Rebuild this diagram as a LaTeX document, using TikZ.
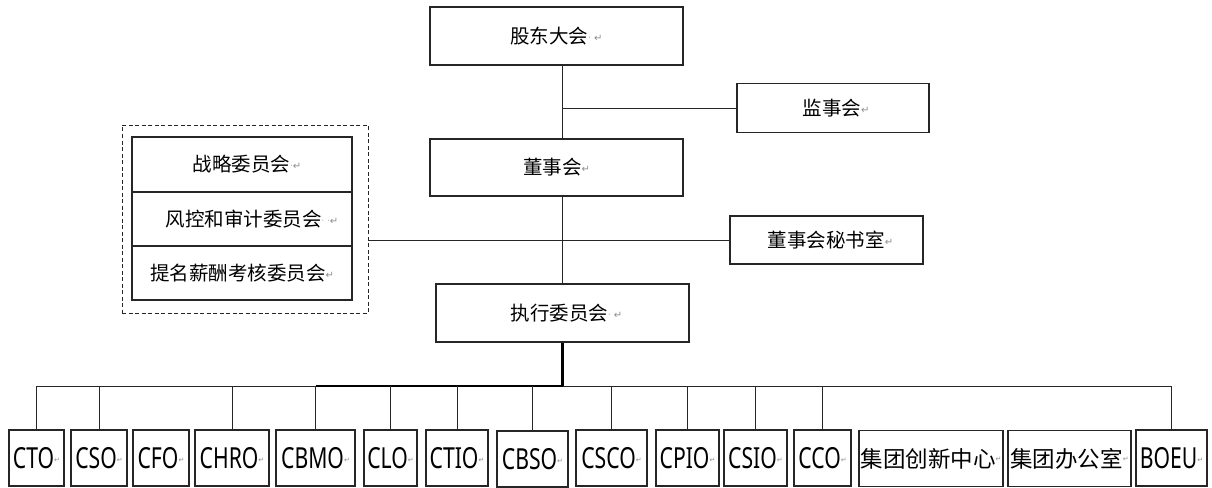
\documentclass[tikz,border=0pt]{standalone}
\usepackage{fontspec}
\newfontfamily\cjk{Noto Sans CJK SC}
\newfontfamily\latn[FakeStretch=0.73]{Noto Sans}
\newfontfamily\mkfont{DejaVu Sans}
\newcommand\rmk{{\mkfont\fontsize{10}{10}\selectfont\raisebox{2pt}{\textcolor{black!45}{↵}}}}
\newcommand\rmks{{\mkfont\fontsize{7}{7}\selectfont\raisebox{6pt}{\textcolor{black!45}{↵}}}}
\newcommand\sdot{{\mkfont\fontsize{8}{8}\selectfont\raisebox{3pt}{\textcolor{black!40}{·}}}}
\begin{document}
\begin{tikzpicture}[x=1pt,y=-1pt,
  box/.style={draw=black!85, line width=1.1pt, inner sep=0pt, align=center,
    font=\cjk\fontsize{19.5}{22}\selectfont},
  bot/.style={draw=black!85, line width=1.1pt, inner sep=0pt, align=center,
    minimum height=56pt, font=\latn\fontsize{29}{30}\selectfont},
  botc/.style={bot, font=\cjk\fontsize{22.5}{24}\selectfont},
  conn/.style={draw=black!85, line width=0.9pt},
  thickconn/.style={draw=black, line width=2.4pt},
  dashbox/.style={draw=black!85, line width=0.9pt, dash pattern=on 4pt off 2.5pt}]
\useasboundingbox (0,0) rectangle (1212,487);
% top chain
\node[box, minimum width=253pt, minimum height=58pt] (gdh) at (556.5,36) {股东大会\sdot\,\rmk};
\node[box, minimum width=192pt, minimum height=49pt] (jsh) at (833,108) {\hspace*{6pt}监事会\rmk};
\node[box, minimum width=253pt, minimum height=57pt] (dsh) at (556.5,167.5) {董事会\rmk};
\node[box, minimum width=193pt, minimum height=48pt] (msh) at (826.5,240) {\hspace*{8pt}董事会秘书室\rmk};
\node[box, minimum width=253pt, minimum height=58pt] (zx) at (562.5,313) {\hspace*{8pt}执行委员会\sdot\,\rmk};
% committees
\node[dashbox, minimum width=246pt, minimum height=188pt, inner sep=0pt] (comm) at (245,219) {};
\node[box, minimum width=220pt, minimum height=55pt] (c1) at (242,164.5) {\hspace*{10pt}战略委员会\sdot\rmk};
\node[box, minimum width=220pt, minimum height=54pt] (c2) at (242,219) {\hspace*{20pt}风控和审计委员会\sdot\,\sdot\rmk};
\node[box, minimum width=220pt, minimum height=54pt] (c3) at (242,273) {提名薪酬考核委员会\rmk};
% connectors top
\draw[conn] (gdh.south -| zx.north) -- (dsh.north -| zx.north);
\draw[conn] (dsh.south -| zx.north) -- (zx.north);
\draw[conn] (jsh.west) -- (jsh.west -| zx.north);
\draw[conn] (msh.west) -- (msh.west -| comm.east);
% bottom row
\node[bot, minimum width=55pt] (cto) at (36.5,458) {CTO\rmks};
\node[bot, minimum width=56pt] (cso) at (99,458) {CSO\rmks};
\node[bot, minimum width=56pt] (cfo) at (161,458) {CFO\rmks};
\node[bot, minimum width=74pt] (chro) at (232,458) {CHRO\rmks};
\node[bot, minimum width=79pt] (cbmo) at (315.5,458) {CBMO\rmks};
\node[bot, minimum width=53pt] (clo) at (390.5,458) {CLO\rmks};
\node[bot, minimum width=62pt] (ctio) at (457,458) {CTIO\rmks};
\node[bot, minimum width=71pt] (cbso) at (532.5,459) {CBSO\rmks};
\node[bot, minimum width=71pt] (csco) at (611.5,458) {CSCO\rmks};
\node[bot, minimum width=63pt] (cpio) at (687.5,458) {CPIO\rmks};
\node[bot, minimum width=63pt] (csio) at (755.5,458) {CSIO\rmks};
\node[bot, minimum width=57pt] (cco) at (822.5,458) {CCO\rmks};
\node[botc, minimum width=144pt] (cxzx) at (931,458.5) {集团创新中心\rmks};
\node[botc, minimum width=123pt] (bgs) at (1069.5,458.5) {集团办公室\rmks};
\node[bot, minimum width=71pt] (boeu) at (1171.5,458) {BOEU\rmks};
% bus
\coordinate (bus) at (562.5,386);
\draw[conn] (bus -| cto.north) -- (bus -| boeu.north);
\draw[draw=black, line width=1.5pt] (bus -| cbmo.north) -- (bus);
\draw[thickconn] (zx.south) -- (bus);
\foreach \n in {cto,cso,chro,cbmo,clo,ctio,cbso,csco,cpio,csio,cco,boeu}
  \draw[conn] (bus -| \n.north) -- (\n.north);
\end{tikzpicture}
\end{document}
